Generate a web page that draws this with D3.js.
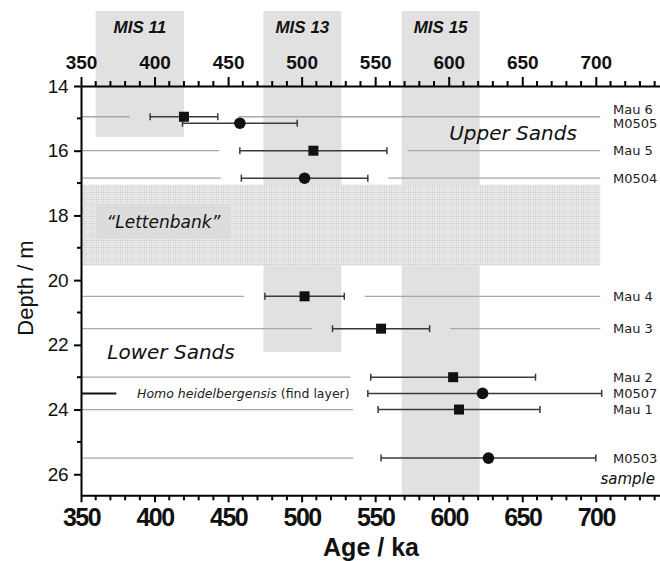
<!DOCTYPE html>
<meta charset="utf-8">
<style>
body { margin: 0; background: #fff; }
text { fill: #111; }
.tick line { stroke: #000; stroke-width: 2px; }
.domain { stroke: #000; stroke-width: 2px; }
.xax text { font-family: "Liberation Sans", Arial, sans-serif; font-weight: bold; }
.yax text { font-family: "Liberation Sans", Arial, sans-serif; font-size: 19px; letter-spacing: -0.5px; }
.note { font-family: "DejaVu Sans", sans-serif; font-style: italic; }
.lab { font-family: "DejaVu Sans", sans-serif; font-size: 12.5px; fill: #222; }
</style>
<body>
<script src="https://cdnjs.cloudflare.com/ajax/libs/d3/7.8.5/d3.min.js"></script>
<script>

// samples, top to bottom
var sampleNames  = ["Mau 6", "M0505", "Mau 5", "M0504", "Mau 4", "Mau 3", "Mau 2", "M0507", "Mau 1", "M0503"];
var sampleDepths = [14.95, 15.15, 16.0, 16.85, 20.5, 21.5, 23.0, 23.5, 24.0, 25.5];
var sampleAges   = [420, 458, 508, 502, 502, 554, 603, 623, 607, 627];
var ageLow       = [397, 419, 458, 459, 475, 521, 547, 545, 552, 554];
var ageHigh      = [443, 497, 558, 545, 529, 587, 659, 704, 662, 700];
var guideLine    = [true, false, true, true, true, true, true, false, true, true];

// marine isotope stages: name, start, end (ka), lower depth of shading (m)
var misNames  = ["MIS 11", "MIS 13", "MIS 15"];
var misStart  = [360, 474, 568];
var misEnd    = [420, 527, 621];
var misBottom = [15.57, 22.22, 26.65];

var ageTicks   = [350, 400, 450, 500, 550, 600, 650, 700];
var depthTicks = [14, 16, 18, 20, 22, 24, 26];

var lettenbank = [17.05, 19.55];   // depth range, m
var findLayer = 23.5;

var width = 660, height = 561;

var x = d3.scaleLinear().domain([350, 745]).range([81, 662]);
var y = d3.scaleLinear().domain([14, 26.65]).range([86, 495.3]);

var svg = d3.select("body").append("svg")
    .attr("width", width)
    .attr("height", height);

var defs = svg.append("defs");
var pat = defs.append("pattern")
    .attr("id", "grid")
    .attr("patternUnits", "userSpaceOnUse")
    .attr("width", 2.4).attr("height", 2.4);
pat.append("rect").attr("width", 2.4).attr("height", 2.4).attr("fill", "#f0f0f0");
pat.append("path").attr("d", "M0,0.3H2.4M0.3,0V2.4")
    .attr("stroke", "#cdcdcd").attr("stroke-width", 0.6);

// MIS bands
var mis = misNames.map(function(n, i){
  return {name: n, a: misStart[i], b: misEnd[i], d: misBottom[i]};
});
svg.selectAll(".mis").data(mis).enter().append("rect")
    .attr("x", function(d){ return x(d.a); })
    .attr("y", 11)
    .attr("width", function(d){ return x(d.b) - x(d.a); })
    .attr("height", function(d){ return y(d.d) - 11; })
    .attr("fill", "#e1e1e1");
svg.selectAll(".mislab").data(mis).enter().append("text")
    .attr("x", function(d){ return (x(d.a) + x(d.b)) / 2; })
    .attr("y", 33)
    .attr("text-anchor", "middle")
    .style("font-family", "Liberation Sans, Arial, sans-serif")
    .style("font-weight", "bold")
    .style("font-style", "italic")
    .style("font-size", "17px")
    .text(function(d){ return d.name; });

// Lettenbank layer
svg.append("rect")
    .attr("x", x(350)).attr("y", y(lettenbank[0]))
    .attr("width", x(703) - x(350))
    .attr("height", y(lettenbank[1]) - y(lettenbank[0]))
    .attr("fill", "url(#grid)");
svg.append("rect")
    .attr("x", x(360)).attr("y", y(17.68))
    .attr("width", x(452) - x(360)).attr("height", y(18.73) - y(17.68))
    .attr("fill", "#dcdcdc");
svg.append("text").attr("class", "note")
    .attr("x", (x(360) + x(452)) / 2).attr("y", y(18.2) + 6)
    .attr("text-anchor", "middle")
    .style("font-size", "17px")
    .text("\u201cLettenbank\u201d");

svg.append("text").attr("class", "note")
    .attr("x", 513).attr("y", 140)
    .attr("text-anchor", "middle")
    .style("font-size", "20px")
    .text("Upper Sands");
svg.append("text").attr("class", "note")
    .attr("x", 171).attr("y", 359)
    .attr("text-anchor", "middle")
    .style("font-size", "20px")
    .text("Lower Sands");

var samples = sampleNames.map(function(n, i){
  return {name: n, depth: sampleDepths[i], age: sampleAges[i],
          lo: ageLow[i], hi: ageHigh[i], guide: guideLine[i],
          circle: n.charAt(0) == "M" && n.charAt(1) == "0"};
});

// grey guide lines to the sample labels
var gap = 14;
samples.filter(function(d){ return d.guide; }).forEach(function(d){
  var g = svg.append("g").attr("stroke", "#a8a8a8").attr("stroke-width", 1.3);
  g.append("line")
      .attr("x1", x(350)).attr("x2", x(Math.min(d.lo - gap, 535)))
      .attr("y1", y(d.depth)).attr("y2", y(d.depth));
  if (d.hi < 600) {
    g.append("line")
        .attr("x1", x(d.hi + gap)).attr("x2", x(703))
        .attr("y1", y(d.depth)).attr("y2", y(d.depth));
  }
});

// find layer
svg.append("line")
    .attr("x1", x(350)).attr("x2", x(374))
    .attr("y1", y(findLayer)).attr("y2", y(findLayer))
    .attr("stroke", "#111").attr("stroke-width", 2);
var hh = svg.append("text").attr("class", "lab")
    .attr("x", 137).attr("y", y(findLayer) + 5);
hh.append("tspan").style("font-style", "italic").text("Homo heidelbergensis ");
hh.append("tspan").text("(find layer)");

// error bars
var eb = svg.selectAll(".eb").data(samples).enter().append("g")
    .attr("stroke", "#3a3a3a").attr("stroke-width", 1.5);
eb.append("line")
    .attr("x1", function(d){ return x(d.lo); })
    .attr("x2", function(d){ return x(d.hi); })
    .attr("y1", function(d){ return y(d.depth); })
    .attr("y2", function(d){ return y(d.depth); });
eb.append("line")
    .attr("x1", function(d){ return x(d.lo); })
    .attr("x2", function(d){ return x(d.lo); })
    .attr("y1", function(d){ return y(d.depth) - 3.5; })
    .attr("y2", function(d){ return y(d.depth) + 3.5; });
eb.append("line")
    .attr("x1", function(d){ return x(d.hi); })
    .attr("x2", function(d){ return x(d.hi); })
    .attr("y1", function(d){ return y(d.depth) - 3.5; })
    .attr("y2", function(d){ return y(d.depth) + 3.5; });

// markers
svg.selectAll(".sq").data(samples.filter(function(d){ return !d.circle; }))
  .enter().append("rect")
    .attr("x", function(d){ return x(d.age) - 5; })
    .attr("y", function(d){ return y(d.depth) - 5; })
    .attr("width", 10).attr("height", 10)
    .attr("fill", "#111");
svg.selectAll(".ci").data(samples.filter(function(d){ return d.circle; }))
  .enter().append("circle")
    .attr("cx", function(d){ return x(d.age); })
    .attr("cy", function(d){ return y(d.depth); })
    .attr("r", 5.8)
    .attr("fill", "#111");

// sample labels, nudged apart where too close
var labY = samples.map(function(d){ return y(d.depth); });
for (var i = labY.length - 2; i >= 0; i--) {
  if (labY[i + 1] - labY[i] < 14) labY[i] = labY[i + 1] - 14;
}
svg.selectAll(".slab").data(samples).enter().append("text")
    .attr("class", "lab")
    .attr("x", 613)
    .attr("y", function(d, i){ return labY[i] + 4.5; })
    .style("font-size", "13px")
    .text(function(d){ return d.name; });
svg.append("text").attr("class", "note")
    .attr("x", 655).attr("y", 484)
    .attr("text-anchor", "end")
    .style("font-size", "15px")
    .text("sample");

// axes
var minorAge = d3.range(350, 746, 10).filter(function(v){ return v % 50 != 0; });
var minorDepth = d3.range(15, 27, 2);

var topAxis = svg.append("g").attr("class", "xax")
    .attr("transform", "translate(0," + y(14) + ")")
    .call(d3.axisTop(x).tickValues(ageTicks).tickSize(9).tickPadding(8).tickSizeOuter(0));
topAxis.selectAll("text").style("font-size", "19px");
topAxis.selectAll(".minor").data(minorAge).enter().append("line")
    .attr("x1", function(d){ return x(d); }).attr("x2", function(d){ return x(d); })
    .attr("y1", 0).attr("y2", -5)
    .attr("stroke", "#000").attr("stroke-width", 2);

var botAxis = svg.append("g").attr("class", "xax")
    .attr("transform", "translate(0," + y(26.65) + ")")
    .call(d3.axisBottom(x).tickValues(ageTicks).tickSize(7).tickPadding(6).tickSizeOuter(0));
botAxis.selectAll("text").style("font-size", "25px").style("letter-spacing", "-1.5px");
botAxis.selectAll(".minor").data(minorAge).enter().append("line")
    .attr("x1", function(d){ return x(d); }).attr("x2", function(d){ return x(d); })
    .attr("y1", 0).attr("y2", 5)
    .attr("stroke", "#000").attr("stroke-width", 2);

var leftAxis = svg.append("g").attr("class", "yax")
    .attr("transform", "translate(" + x(350) + ",0)")
    .call(d3.axisLeft(y).tickValues(depthTicks).tickSize(7).tickPadding(6).tickSizeOuter(0));
leftAxis.selectAll(".minor").data(minorDepth).enter().append("line")
    .attr("x1", 0).attr("x2", -4)
    .attr("y1", function(d){ return y(d); }).attr("y2", function(d){ return y(d); })
    .attr("stroke", "#000").attr("stroke-width", 2);

svg.append("text")
    .attr("transform", "translate(33,288) rotate(-90)")
    .attr("text-anchor", "middle")
    .style("font-family", "Liberation Sans, Arial, sans-serif")
    .style("font-size", "22px")
    .text("Depth / m");
svg.append("text")
    .attr("x", 371).attr("y", 556)
    .attr("text-anchor", "middle")
    .style("font-family", "Liberation Sans, Arial, sans-serif")
    .style("font-weight", "bold")
    .style("font-size", "25px")
    .text("Age / ka");

</script>
